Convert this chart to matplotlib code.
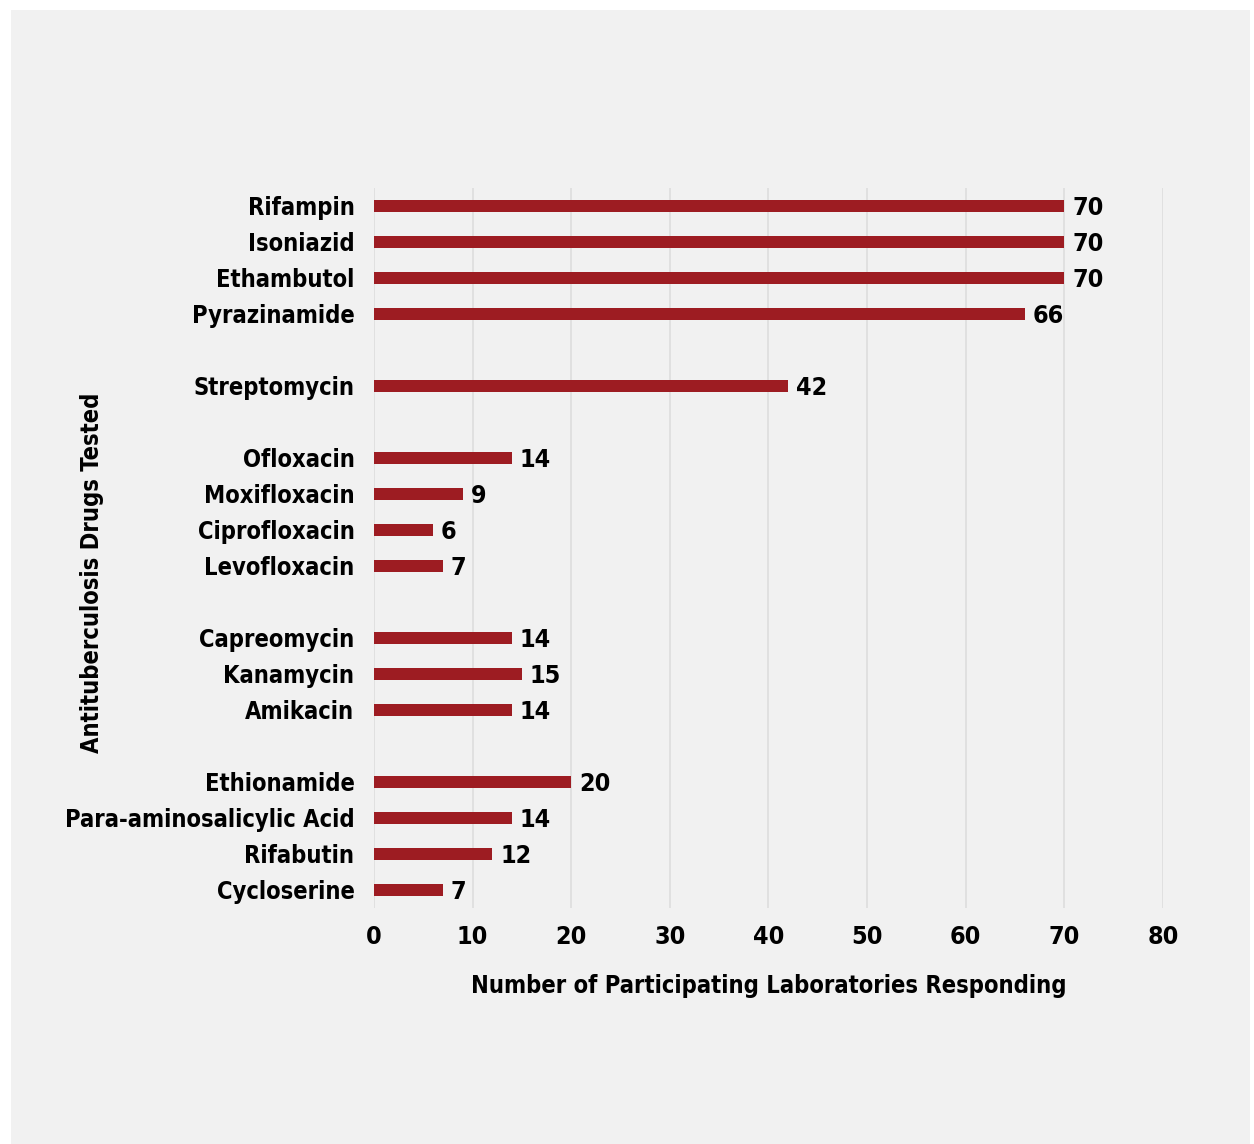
import numpy as np
import matplotlib.pyplot as plt
from matplotlib.patches import Rectangle

drugs = ["Rifampin", "Isoniazid", "Ethambutol", "Pyrazinamide",
         "Streptomycin",
         "Ofloxacin", "Moxifloxacin", "Ciprofloxacin", "Levofloxacin",
         "Capreomycin", "Kanamycin", "Amikacin",
         "Ethionamide", "Para-aminosalicylic Acid", "Rifabutin", "Cycloserine"]
counts = [70, 70, 70, 66,
          42,
          14, 9, 6, 7,
          14, 15, 14,
          20, 14, 12, 7]
# slot of each bar, a blank slot between drug groups
slots = [0, 1, 2, 3, 5, 7, 8, 9, 10, 12, 13, 14, 16, 17, 18, 19]

plt.rcParams['font.family'] = ['DejaVu Sans']
plt.rcParams['font.stretch'] = 'condensed'
plt.rcParams['font.weight'] = 'bold'
fs = 17

fig = plt.figure(figsize=(12.54, 11.44), dpi=100, facecolor='white')
fig.patches.append(Rectangle((11/1254, 0), 1 - 15/1254, 1 - 10/1144,
                             transform=fig.transFigure, facecolor='#f1f1f1',
                             edgecolor='none', zorder=-10))

ax = fig.add_axes([0.2982, 0.2063, 0.6292, 0.6294])
ax.set_facecolor('none')
ax.barh(slots, counts, height=0.34, color='#9d1c22', zorder=3)
for s, c in zip(slots, counts):
    ax.text(c + 0.8, s + 0.05, str(c), va='center', ha='left',
            fontsize=fs + 1, fontweight='bold')

ax.set_xlim(0, 80)
ax.set_ylim(19.5, -0.5)
ax.set_xticks(np.arange(0, 81, 10))
ax.set_yticks(slots)
ax.set_yticklabels(drugs)
ax.tick_params(axis='y', length=0, pad=14, labelsize=fs)
ax.tick_params(axis='x', length=0, pad=12, labelsize=fs + 1)
ax.grid(axis='x', color='#dddddd', linewidth=1.2, zorder=0)
for sp in ax.spines.values():
    sp.set_visible(False)

ax.set_xlabel('Number of Participating Laboratories Responding',
              fontsize=fs, fontweight='bold', labelpad=18)
ax.set_ylabel('Antituberculosis Drugs Tested', fontsize=fs,
              fontweight='bold')
ax.yaxis.set_label_coords(-0.342, 0.465)

fig.savefig('out.png', dpi=100, facecolor=fig.get_facecolor())
